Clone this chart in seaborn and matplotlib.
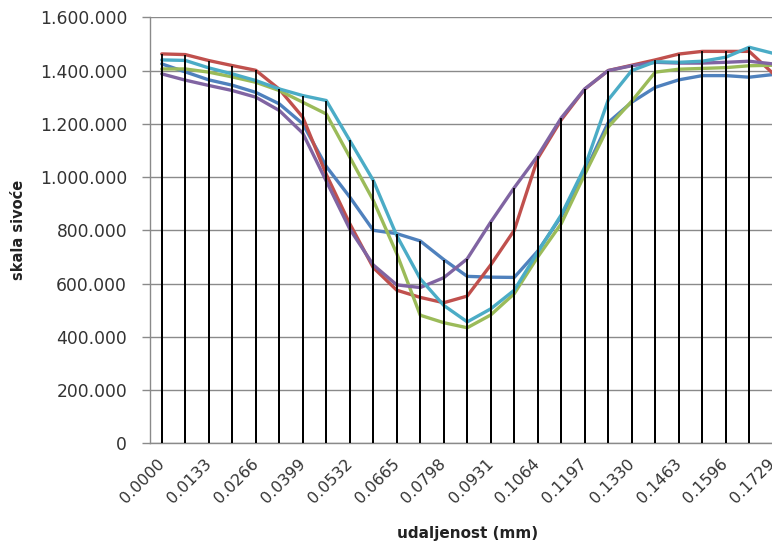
import matplotlib
matplotlib.use("Agg")
import matplotlib.pyplot as plt
import numpy as np
import pandas as pd
import seaborn as sns
from matplotlib.ticker import FuncFormatter, MultipleLocator

# ---------------- data ----------------
categories = ["0.0000", "0.0067", "0.0133", "0.0200", "0.0266", "0.0333", "0.0399",
              "0.0466", "0.0532", "0.0599", "0.0665", "0.0732", "0.0798", "0.0865",
              "0.0931", "0.0998", "0.1064", "0.1131", "0.1197", "0.1264", "0.1330",
              "0.1397", "0.1463", "0.1530", "0.1596", "0.1663", "0.1729"]

blue = [1425000, 1395000, 1365000, 1345000, 1318000, 1275000, 1200000, 1040000, 925000,
        800000, 787500, 760000, 690000, 627000, 624000, 623000, 722000, 852000, 1018000,
        1205000, 1281000, 1337000, 1365000, 1381000, 1381000, 1375000, 1385000]
red = [1462500, 1460000, 1437500, 1418750, 1401000, 1330000, 1225000, 1010000, 825000,
       660000, 575000, 548000, 528000, 553000, 670000, 800000, 1070000, 1215000, 1330000,
       1400000, 1420000, 1440000, 1462000, 1472000, 1472000, 1472000, 1390000]
green = [1406000, 1406000, 1394000, 1376000, 1356000, 1325000, 1281000, 1237000, 1075000,
         912500, 712500, 481000, 453000, 434000, 482000, 562000, 700000, 825000, 1010000,
         1188000, 1285000, 1394000, 1405000, 1408000, 1411000, 1418000, 1420000]
purple = [1387500, 1364000, 1344000, 1325000, 1300000, 1250000, 1165000, 985000, 805000,
          670000, 595000, 585000, 622000, 693000, 831000, 960000, 1080000, 1222000, 1331000,
          1400000, 1418000, 1431000, 1428000, 1428000, 1431000, 1435000, 1425000]
cyan = [1440000, 1438000, 1410000, 1387500, 1362500, 1331000, 1306000, 1287500, 1137500,
        987500, 780000, 618000, 518000, 456000, 505000, 575000, 718000, 858000, 1037500,
        1290000, 1400000, 1433000, 1431000, 1435000, 1450000, 1487500, 1465000]

series_names = ["Niz1", "Niz2", "Niz3", "Niz4", "Niz5"]
series_values = [blue, red, green, purple, cyan]
colors = ["#4F81BD", "#C0504D", "#9BBB59", "#8064A2", "#4BACC6"]

# ---------------- figure ----------------
sns.set_theme(style="white")
plt.rcParams["font.family"] = ["DejaVu Sans"]

W, H = 772, 554
fig = plt.figure(figsize=(W / 100, H / 100), dpi=100)
left_px, right_px, top_px, bottom_px = 150, 784.5, 17.3, 443.3
ax = fig.add_axes([left_px / W, 1 - bottom_px / H,
                   (right_px - left_px) / W, (bottom_px - top_px) / H])

pos = np.arange(len(categories))
rows = []
for name, vals in zip(series_names, series_values):
    for p, v in zip(pos, vals):
        rows.append({"pos": p, "value": v, "series": name})
df = pd.DataFrame(rows)

palette = dict(zip(series_names, colors))
sns.lineplot(data=df, x="pos", y="value", hue="series", palette=palette,
             hue_order=series_names, linewidth=2.4, legend=False, ax=ax,
             sort=False, zorder=3)

# drop lines
for vals in series_values:
    ax.vlines(pos, 0, vals, color="black", linewidth=1.3, zorder=4)

ax.set_xlim(-0.5, len(categories) - 0.5)
ax.set_ylim(0, 1600000)
ax.yaxis.set_major_locator(MultipleLocator(200000))
ax.yaxis.set_major_formatter(FuncFormatter(lambda v, _: f"{int(round(v)):,}".replace(",", ".")))

ax.grid(False)
ax.yaxis.grid(True, color="#8a8a8a", linewidth=1.0, zorder=1)
ax.set_axisbelow(True)

ax.set_xticks(pos[::2])
ax.set_xticklabels(categories[::2], rotation=45, ha="right", va="center",
                   rotation_mode="anchor", fontsize=11.5, color="#333333")
ax.tick_params(axis="x", length=0, pad=13)
ax.tick_params(axis="y", length=6, width=1, color="#8a8a8a", direction="out",
               pad=10.5, labelsize=12.3, labelcolor="#333333")
ax.yaxis.set_ticks_position("left")

for s in ["top", "right"]:
    ax.spines[s].set_visible(False)
for s in ["left", "bottom"]:
    ax.spines[s].set_color("#8a8a8a")
    ax.spines[s].set_linewidth(1.0)

ax.set_xlabel("udaljenost (mm)", fontsize=11, fontweight="bold", color="#222222", labelpad=14)
ax.set_ylabel("skala sivoće", fontsize=10.5, fontweight="bold", color="#222222", labelpad=10)

fig.savefig("out.png", dpi=100, facecolor="white")
